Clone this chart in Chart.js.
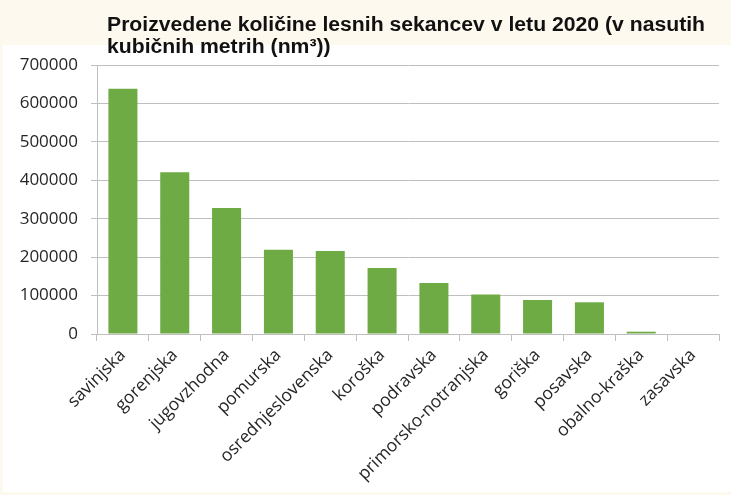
<!DOCTYPE html>
<html>
<head>
<meta charset="utf-8">
<script src="https://cdn.jsdelivr.net/npm/chart.js@4.4.1/dist/chart.umd.min.js"></script>
<style>
  html, body { margin: 0; padding: 0; background: #fdf9ee; }
  #wrap { width: 731px; height: 495px; }
</style>
</head>
<body>
<div id="wrap"><canvas id="woodChart" width="731" height="495"></canvas></div>
<script>
  // regije in kolicine (nm3)
  const regions = ['savinjska', 'gorenjska', 'jugovzhodna', 'pomurska', 'osrednjeslovenska',
    'koroška', 'podravska', 'primorsko-notranjska', 'goriška', 'posavska', 'obalno-kraška', 'zasavska'];
  const amounts = [638000, 421000, 328000, 219000, 216000, 172000, 133000, 103000, 88500, 82500, 6000, 0];
  const yTicks = [0, 100000, 200000, 300000, 400000, 500000, 600000, 700000];
  const titleLines = ['Proizvedene količine lesnih sekancev v letu 2020 (v nasutih', 'kubičnih metrih (nm³))'];

  // cream page with white panel behind the plot
  const panelBg = {
    id: 'panelBg',
    beforeDraw(chart) {
      const c = chart.ctx;
      c.save();
      c.fillStyle = '#fdf9ee';
      c.fillRect(0, 0, chart.width, chart.height);
      c.fillStyle = '#ffffff';
      c.fillRect(3, 45, chart.width - 3, chart.height - 48);
      c.restore();
    }
  };

  // title sits left-aligned, offset from the plot; squeezed to the original width
  const titleText = {
    id: 'titleText',
    afterDraw(chart) {
      const c = chart.ctx;
      c.save();
      c.font = 'bold 20px "Liberation Sans", Arial, sans-serif';
      c.fillStyle = '#111111';
      c.textBaseline = 'alphabetic';
      const sx = 598 / c.measureText(titleLines[0]).width;
      c.translate(107, 0);
      c.scale(sx, 1);
      c.fillText(titleLines[0], 0, 31);
      c.fillText(titleLines[1], 0, 53);
      c.restore();
    }
  };

  const ctx = document.getElementById('woodChart').getContext('2d');
  const woodChart = new Chart(ctx, {
    type: 'bar',
    data: {
      labels: regions,
      datasets: [{
        data: amounts,
        backgroundColor: '#6eab45',
        borderWidth: 0,
        barPercentage: 0.56,
        categoryPercentage: 1
      }]
    },
    options: {
      responsive: false,
      animation: false,
      layout: { padding: { top: 65, right: 12, left: 0, bottom: 0 } },
      plugins: {
        legend: { display: false },
        title: { display: false },
        tooltip: { enabled: false }
      },
      scales: {
        x: {
          afterFit(axis) { axis.height = 161; },
          grid: { display: true, drawOnChartArea: false, tickLength: 7, color: '#bfbfbf' },
          border: { color: '#bfbfbf' },
          ticks: {
            minRotation: 45,
            maxRotation: 45,
            autoSkip: false,
            padding: 4,
            color: '#262626',
            font: { family: '"Open Sans", sans-serif', size: 17.5 }
          }
        },
        y: {
          min: 0,
          max: 700000,
          afterFit(axis) { axis.width = 97; },
          afterBuildTicks(axis) { axis.ticks = yTicks.map(v => ({ value: v })); },
          grid: { color: '#bfbfbf', tickLength: 6 },
          border: { color: '#bfbfbf' },
          ticks: {
            padding: 13,
            color: '#262626',
            font: { family: '"Open Sans", sans-serif', size: 17 },
            callback: v => String(v)
          }
        }
      }
    },
    plugins: [panelBg, titleText]
  });
</script>
</body>
</html>
